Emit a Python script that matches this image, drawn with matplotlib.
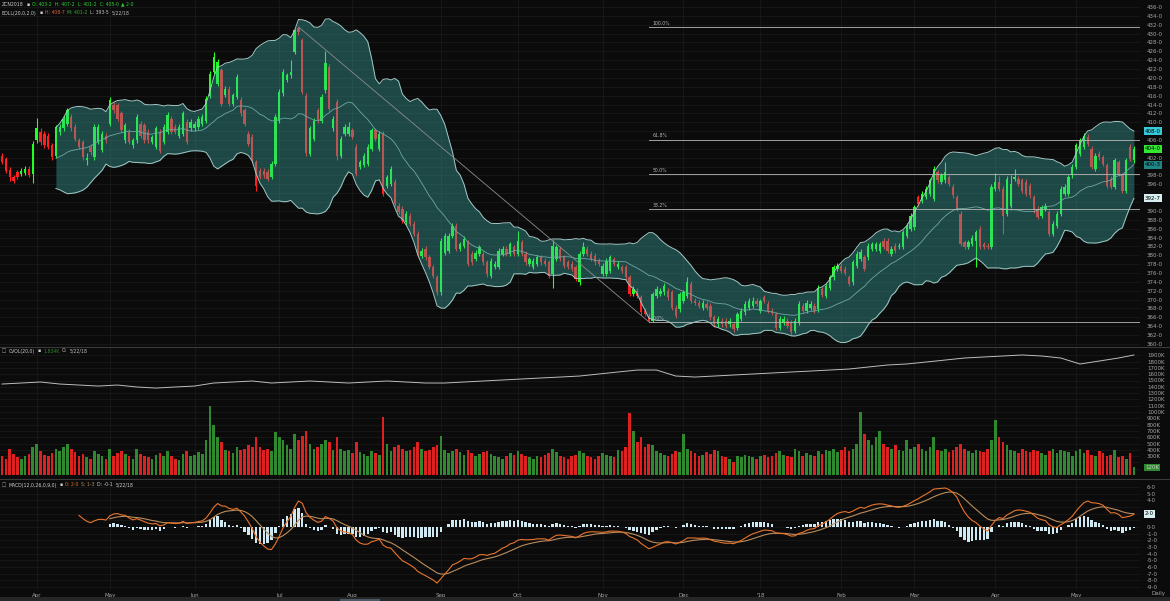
import numpy as np
import pandas as pd
import matplotlib
matplotlib.use("Agg")
import matplotlib.pyplot as plt

# ---------------- data ----------------
# 5 bars before the visible window (warm-up for indicators) + 295 visible daily bars
n_hidden = 5
opens = [
    401.0, 401.8, 402.6, 400.8, 401.9,
    402.5, 401.8, 399.3, 397.6, 398.8, 398.3, 398.6, 399.5, 398.4, 405.9,
    407.8, 407.4, 406.8, 404.8, 402.5, 407.8, 408.6, 409.7, 411.2, 408.9,
    405.9, 405.5, 401.4, 404.4, 402.1, 405.5, 403.7, 407.0, 409.7, 413.8,
    413.8, 412.0, 405.9, 407.8, 404.8, 405.9, 409.7, 409.3, 407.8, 405.5,
    404.4, 407.8, 405.5, 407.8, 410.8, 408.9, 407.0, 407.4, 410.1, 408.6,
    408.6, 408.9, 409.7, 410.4, 416.0, 421.4, 418.7, 421.7, 416.1, 417.6,
    414.2, 415.7, 415.0, 412.7, 407.4, 406.7, 401.0, 399.1, 399.1, 398.8,
    397.6, 400.6, 410.4, 416.5, 419.5, 420.6, 425.9, 431.2, 428.5, 416.0,
    402.9, 406.3, 412.7, 410.4, 417.2, 422.5, 408.6, 414.6, 402.5, 407.4,
    407.4, 408.2, 404.4, 400.0, 400.3, 400.6, 404.0, 408.2, 404.0, 407.4,
    395.7, 396.1, 396.5, 391.2, 390.4, 387.4, 388.9, 387.1, 384.8, 379.9,
    381.4, 379.5, 377.3, 375.0, 371.6, 380.6, 381.0, 384.4, 386.7, 381.4,
    382.1, 382.9, 380.3, 379.1, 380.3, 380.3, 378.4, 375.4, 377.3, 377.3,
    380.3, 381.4, 380.3, 381.8, 380.3, 382.9, 380.3, 378.0, 377.3, 378.0,
    379.5, 378.8, 378.4, 375.8, 379.1, 381.4, 379.5, 378.4, 378.0, 377.3,
    373.9, 380.3, 381.4, 380.3, 379.9, 378.8, 375.8, 375.8, 376.5, 379.1,
    377.3, 377.3, 377.3, 375.0, 371.2, 372.0, 370.5, 367.5, 366.3, 365.2,
    370.8, 371.2, 371.6, 372.0, 371.6, 368.2, 367.8, 369.7, 370.8, 373.5,
    369.7, 369.3, 368.2, 369.0, 368.6, 366.0, 364.4, 365.2, 365.2, 364.4,
    364.4, 363.7, 365.6, 367.1, 368.2, 368.6, 369.7, 367.5, 370.5, 369.0,
    367.5, 366.7, 363.7, 364.8, 365.2, 364.8, 362.9, 364.8, 368.6, 367.5,
    368.2, 368.6, 367.8, 372.3, 370.9, 372.7, 375.0, 376.9, 377.6, 376.9,
    375.0, 373.9, 377.6, 379.1, 379.5, 379.5, 381.4, 381.4, 381.0, 383.3,
    383.3, 380.3, 382.2, 381.8, 381.8, 384.4, 386.0, 386.3, 393.1, 392.3,
    393.1, 393.9, 392.7, 398.7, 396.5, 396.9, 397.6, 395.4, 393.1, 389.3,
    382.9, 381.8, 382.5, 383.3, 385.9, 382.5, 382.2, 381.8, 395.0, 396.5,
    395.0, 389.3, 391.2, 397.2, 397.2, 396.9, 396.5, 395.7, 393.1, 390.5,
    388.9, 390.5, 389.7, 384.8, 386.7, 389.3, 393.9, 393.9, 398.0, 399.9,
    402.9, 404.4, 406.7, 404.0, 399.5, 402.9, 402.1, 400.3, 397.2, 395.4,
    401.0, 398.0, 394.6, 404.4, 401.4,
]
highs = [
    402.5, 403.0, 403.2, 402.4, 403.4,
    403.0, 402.2, 399.8, 398.2, 399.3, 399.6, 400.2, 400.1, 405.7, 411.0,
    408.6, 408.0, 407.5, 405.4, 409.4, 409.6, 411.4, 413.3, 411.8, 409.5,
    406.5, 406.1, 403.1, 405.0, 409.5, 409.5, 408.0, 407.6, 415.6, 414.5,
    414.4, 412.6, 409.9, 408.4, 406.5, 411.8, 410.3, 409.9, 408.4, 407.2,
    409.2, 408.4, 409.5, 412.4, 411.4, 409.5, 409.5, 412.6, 410.7, 410.7,
    410.3, 411.4, 411.8, 415.9, 421.6, 425.9, 424.2, 422.3, 418.2, 418.2,
    416.7, 420.8, 415.6, 413.3, 408.0, 407.3, 401.6, 399.7, 399.7, 399.4,
    401.2, 411.8, 417.5, 422.0, 421.2, 424.0, 431.0, 431.5, 429.1, 416.6,
    409.2, 411.0, 413.3, 416.3, 426.0, 423.1, 411.4, 415.2, 406.9, 409.5,
    410.0, 408.8, 405.0, 401.6, 403.1, 405.0, 408.8, 408.8, 408.0, 408.0,
    398.2, 400.1, 397.1, 391.8, 391.0, 389.9, 389.5, 387.7, 385.4, 381.6,
    382.0, 380.1, 377.9, 375.6, 383.9, 385.0, 385.0, 387.3, 387.3, 383.1,
    384.3, 383.5, 380.9, 381.2, 382.4, 380.9, 379.0, 379.4, 378.6, 381.6,
    382.0, 382.0, 383.1, 382.4, 385.5, 383.5, 380.9, 379.7, 379.4, 380.1,
    380.1, 379.4, 379.0, 383.5, 382.4, 382.0, 380.1, 379.0, 378.6, 377.9,
    380.9, 383.0, 382.0, 380.9, 380.5, 379.4, 378.2, 379.4, 380.1, 379.7,
    378.6, 377.9, 377.9, 375.6, 373.0, 372.6, 371.1, 368.1, 366.9, 371.8,
    373.0, 372.6, 373.7, 372.6, 372.2, 368.8, 371.8, 372.2, 375.0, 374.1,
    370.3, 369.9, 369.9, 369.6, 369.2, 366.6, 366.2, 365.8, 365.8, 365.8,
    365.0, 367.3, 368.1, 369.6, 370.3, 370.5, 370.3, 370.2, 371.1, 369.6,
    368.1, 367.3, 366.2, 366.2, 365.8, 365.4, 365.8, 369.6, 369.2, 369.9,
    369.6, 369.2, 373.3, 372.9, 373.7, 375.6, 377.9, 378.2, 378.2, 377.5,
    375.6, 379.0, 380.9, 381.3, 380.1, 382.8, 383.1, 383.1, 383.1, 383.9,
    383.9, 382.0, 382.8, 382.8, 385.8, 387.3, 389.5, 391.4, 393.7, 394.5,
    395.6, 397.5, 400.1, 399.3, 398.6, 401.0, 398.2, 396.0, 393.7, 389.9,
    383.5, 383.5, 384.6, 385.8, 386.5, 383.1, 382.8, 396.0, 398.6, 397.8,
    395.6, 397.8, 398.0, 399.5, 397.8, 397.5, 397.1, 396.3, 393.7, 391.1,
    391.4, 391.8, 390.3, 387.7, 389.9, 395.6, 396.0, 398.2, 400.5, 405.4,
    406.5, 407.6, 407.3, 404.6, 403.1, 403.5, 402.7, 400.9, 397.8, 402.0,
    401.6, 398.6, 402.0, 405.0, 404.6,
]
lows = [
    400.0, 401.0, 400.2, 400.0, 401.2,
    400.5, 398.6, 396.8, 396.2, 397.1, 397.8, 398.2, 397.7, 396.4, 405.3,
    404.9, 404.3, 403.9, 401.4, 402.0, 407.2, 408.1, 409.2, 408.1, 405.8,
    403.9, 401.5, 400.3, 402.7, 401.6, 405.0, 403.2, 405.3, 409.2, 412.1,
    410.3, 407.7, 405.4, 405.0, 404.2, 405.4, 406.5, 405.4, 405.4, 405.0,
    403.9, 403.1, 405.0, 407.3, 407.3, 407.3, 406.5, 406.9, 405.0, 408.1,
    408.1, 408.4, 409.2, 409.9, 415.5, 420.9, 418.2, 413.7, 415.6, 413.7,
    413.7, 415.2, 411.5, 409.2, 404.7, 400.9, 394.6, 397.1, 397.5, 396.7,
    397.1, 400.1, 409.9, 416.0, 419.0, 420.1, 425.4, 429.8, 416.4, 402.5,
    402.4, 405.8, 409.9, 409.9, 416.7, 412.5, 408.1, 401.5, 402.0, 406.9,
    406.9, 406.2, 397.9, 399.5, 399.8, 400.1, 403.5, 405.8, 403.5, 393.3,
    395.2, 395.6, 391.1, 389.2, 387.3, 386.9, 386.6, 384.3, 379.8, 379.4,
    379.0, 376.8, 374.9, 371.0, 371.1, 380.1, 380.5, 383.9, 380.9, 380.9,
    381.6, 377.5, 377.9, 378.6, 379.8, 377.9, 375.2, 374.9, 376.8, 376.8,
    379.8, 379.8, 379.8, 379.8, 379.8, 379.8, 377.9, 377.5, 376.8, 377.5,
    377.9, 377.5, 374.9, 372.7, 378.6, 378.6, 377.1, 376.8, 376.4, 374.1,
    373.4, 379.8, 379.8, 378.6, 377.9, 377.5, 375.3, 375.3, 376.0, 377.5,
    376.8, 376.0, 374.5, 370.7, 370.7, 370.3, 366.6, 366.2, 365.0, 365.0,
    370.3, 370.7, 371.1, 370.0, 367.7, 365.8, 367.3, 369.2, 370.3, 369.2,
    368.8, 368.1, 367.7, 367.7, 365.5, 363.9, 363.9, 363.9, 363.6, 363.9,
    362.8, 363.2, 365.1, 366.6, 367.7, 368.1, 368.5, 367.0, 369.2, 367.0,
    366.5, 363.2, 363.2, 364.3, 363.6, 362.0, 362.4, 364.3, 367.0, 367.0,
    367.7, 367.0, 367.3, 370.5, 370.4, 372.2, 374.5, 376.4, 376.0, 375.6,
    373.0, 373.4, 377.1, 378.6, 376.4, 379.0, 380.9, 380.9, 380.5, 381.3,
    380.5, 379.8, 380.5, 381.3, 381.3, 383.9, 385.5, 385.8, 391.1, 391.8,
    392.6, 393.4, 392.2, 396.4, 396.0, 396.4, 395.6, 393.0, 390.0, 382.1,
    381.3, 381.3, 382.0, 377.3, 381.3, 381.3, 381.3, 381.3, 394.5, 394.5,
    384.8, 388.8, 390.7, 396.7, 395.6, 394.1, 393.4, 393.0, 389.6, 388.1,
    388.4, 390.0, 384.3, 384.3, 386.2, 388.8, 393.4, 393.4, 397.5, 399.4,
    402.4, 403.9, 404.7, 399.4, 399.0, 401.6, 400.1, 395.2, 394.9, 394.9,
    397.9, 394.1, 394.1, 401.3, 400.9,
]
closes = [
    401.8, 402.6, 400.8, 401.9, 402.8,
    401.0, 399.1, 397.6, 396.7, 397.6, 399.1, 399.5, 398.2, 405.2, 408.6,
    405.5, 404.8, 404.4, 402.1, 408.9, 408.9, 410.8, 412.7, 408.6, 406.3,
    404.4, 402.1, 401.9, 403.3, 408.9, 408.9, 407.4, 405.9, 415.0, 412.7,
    410.8, 408.2, 409.3, 405.5, 405.9, 411.2, 407.0, 405.9, 405.9, 406.7,
    408.6, 403.6, 408.9, 411.6, 407.8, 407.8, 408.9, 412.0, 405.5, 410.1,
    409.7, 410.8, 411.2, 415.3, 421.0, 424.8, 423.6, 414.2, 417.6, 414.2,
    416.1, 420.2, 412.0, 409.7, 405.2, 401.4, 395.7, 397.6, 398.0, 397.2,
    400.6, 411.2, 416.9, 421.4, 420.6, 421.4, 430.8, 430.3, 416.9, 403.0,
    408.6, 410.4, 410.4, 415.7, 423.3, 413.0, 410.8, 402.5, 406.3, 408.9,
    408.9, 406.7, 398.4, 401.0, 402.5, 404.4, 408.2, 406.3, 407.4, 393.8,
    397.6, 399.5, 391.6, 389.7, 387.8, 389.3, 387.1, 384.8, 380.3, 381.0,
    379.5, 377.3, 375.4, 371.6, 383.3, 384.4, 384.4, 386.7, 381.4, 382.5,
    383.7, 378.0, 378.4, 380.6, 381.8, 378.4, 375.7, 378.8, 378.0, 381.0,
    381.4, 380.3, 382.5, 380.3, 383.3, 380.3, 378.4, 379.1, 378.8, 379.5,
    378.4, 378.0, 375.4, 382.1, 381.8, 379.1, 377.6, 377.3, 376.9, 374.6,
    380.3, 381.8, 380.3, 379.1, 378.4, 378.0, 377.6, 378.8, 379.5, 378.0,
    378.0, 376.5, 375.0, 371.2, 372.4, 370.8, 367.1, 366.7, 365.2, 371.2,
    372.4, 372.0, 373.1, 370.5, 368.2, 366.3, 371.2, 371.6, 373.9, 369.7,
    369.3, 368.6, 369.3, 368.2, 366.0, 364.4, 365.6, 364.4, 364.1, 365.2,
    363.3, 366.7, 367.5, 369.0, 369.7, 369.7, 369.0, 369.7, 369.7, 367.5,
    367.0, 363.7, 365.6, 365.6, 364.1, 362.6, 365.2, 369.0, 367.5, 369.3,
    369.0, 367.5, 372.7, 371.0, 373.1, 375.0, 377.3, 377.6, 376.5, 376.1,
    373.5, 378.4, 380.3, 380.7, 376.9, 382.2, 382.5, 382.5, 382.5, 381.8,
    381.0, 381.4, 381.0, 382.2, 385.2, 386.7, 388.9, 390.8, 391.6, 393.9,
    395.0, 396.9, 399.5, 396.9, 398.0, 398.7, 396.1, 393.5, 390.5, 382.6,
    381.8, 382.9, 384.0, 385.2, 381.8, 381.8, 381.8, 395.4, 396.5, 395.0,
    388.9, 397.2, 396.1, 397.6, 396.1, 394.6, 393.9, 393.5, 390.1, 388.6,
    390.8, 391.2, 384.8, 387.1, 389.3, 395.0, 395.4, 397.6, 399.9, 404.8,
    405.9, 407.0, 405.2, 399.9, 402.5, 402.1, 400.6, 395.7, 395.4, 401.4,
    398.4, 394.6, 401.4, 401.8, 404.0,
]
# daily volume, thousands of contracts
volume_k = [
    300, 280, 320, 300, 260,
    300, 260, 420, 340, 280, 250, 300, 330, 450, 500, 380, 320, 300, 350, 420,
    380, 450, 500, 420, 360, 300, 340, 280, 260, 380, 330, 300, 260,
    420, 300, 350, 380, 330, 300, 250, 420, 340, 300, 280, 260, 320, 350, 300,
    380, 300, 260, 240, 330, 380, 300,
    320, 360, 340, 550, 1100, 800, 600, 520, 400, 380, 350, 450, 400, 420, 480,
    450, 600, 450, 400, 420, 380, 680,
    600, 550, 480, 420, 650, 560, 620, 700, 500, 420, 450, 500, 560, 520, 400,
    600, 420, 380, 400,
    350, 520, 360, 340, 300, 380, 350, 320, 920, 500, 380, 450, 480, 420, 380,
    400, 450, 520, 420, 380, 400, 450, 480,
    620, 400, 350, 380, 420, 360, 320, 400, 350, 300, 330, 360, 380, 340, 300,
    280, 260, 300, 350, 320,
    380, 340, 300, 280, 260, 300, 280, 320, 350, 420, 360, 300, 280, 260, 300,
    320, 380, 350, 300, 280, 260, 300,
    350, 320, 300, 280, 400, 380, 450, 980, 700, 520, 600, 450, 500, 480, 380,
    350, 320, 300, 340, 380, 360,
    650, 420, 380, 350, 300, 320, 360, 340, 400, 380, 300, 280, 260, 200, 300,
    280, 320, 300, 280, 250,
    300, 320, 280, 300, 350, 380, 320, 300, 280, 420, 380, 300, 350, 320, 300,
    380, 340, 400, 380, 420, 360,
    400, 450, 380, 420, 500, 1000, 650, 550, 480, 600, 700, 500, 450, 420, 480,
    400, 380, 550, 420,
    450, 500, 420, 380, 450, 600, 400, 380, 420, 360, 400, 450, 500, 420, 380,
    350, 400, 380, 360, 420, 550,
    880, 600, 520, 480, 400, 380, 350, 420, 380, 360, 400, 380, 350, 320, 380,
    420, 350, 400, 380, 360, 300,
    380, 420, 350, 400, 320, 300, 380, 350, 300, 320, 400, 280, 300, 250, 350, 120,
]
# CVOL line (thousands), read every 5th visible bar
cvol_bar = [0, 5, 10, 15, 20, 25, 30, 35, 40, 45, 50, 55, 60, 65, 70, 75, 80, 85,
            90, 95, 100, 105, 110, 115, 120, 125, 130, 135, 140, 145, 150, 155,
            160, 165, 170, 175, 180, 185, 190, 195, 200, 205, 210, 215, 220, 225,
            230, 235, 240, 245, 250, 255, 260, 265, 270, 275, 280, 285, 290, 294]
cvol_k = [1444, 1460, 1476, 1444, 1428, 1412, 1428, 1397, 1380, 1397, 1412, 1460,
          1476, 1492, 1460, 1476, 1492, 1476, 1460, 1476, 1492, 1476, 1460, 1460,
          1476, 1492, 1508, 1524, 1540, 1555, 1571, 1603, 1635, 1666, 1666, 1571,
          1555, 1571, 1587, 1603, 1619, 1635, 1650, 1666, 1682, 1714, 1746, 1762,
          1793, 1825, 1857, 1873, 1889, 1905, 1889, 1857, 1762, 1809, 1857, 1905]

month_bar = [9, 28, 50, 72, 91, 114, 134, 156, 177, 197, 218, 237, 258, 279]
month_lbl = ["Apr", "May", "Jun", "Jul", "Aug", "Sep", "Oct", "Nov", "Dec",
             "'18", "Feb", "Mar", "Apr", "May"]

fib_high, fib_low = 431.5, 365.0
fib_high_bar, fib_low_bar = 77, 168
fib_ratio = [1.0, 0.618, 0.5, 0.382, 0.0]
fib_lbl = ["100.0%", "61.8%", "50.0%", "38.2%", "0.0%"]

# ---------------- styling ----------------
BG = "#0b0b0b"
GRID = "#191919"
TXT = "#a6a6a6"
GREEN = "#22ff22"
RED = "#ff2020"
VGREEN = "#2f8a2f"
VRED = "#dd2020"

W, H = 1170, 601
fig = plt.figure(figsize=(W / 100, H / 100), dpi=100, facecolor=BG)
renderer = fig.canvas.get_renderer()


def px_axes(x0, y0, x1, y1):
    a = fig.add_axes([x0 / W, 1 - y1 / H, (x1 - x0) / W, (y1 - y0) / H])
    a.set_facecolor(BG)
    for sp in a.spines.values():
        sp.set_visible(False)
    return a


def right_ticks(ax, ticks, fmt, boxes, clear):
    # tick labels hidden underneath the value boxes are left out (as in the source)
    keep = [t for t in ticks if all(abs(t - b) >= clear for b in boxes)]
    ax.yaxis.tick_right()
    ax.set_yticks(keep)
    ax.set_yticklabels([fmt(t) for t in keep])
    ax.tick_params(axis="y", length=0, pad=5, labelsize=4.0, labelcolor=TXT)


def vbox(ax, y, text, fc, tc="#000000"):
    ax.annotate(text, xy=(1, y), xycoords=("axes fraction", "data"), xytext=(3.6, 0),
                textcoords="offset points", va="center", ha="left", fontsize=4.0,
                color=tc, annotation_clip=False, zorder=10,
                bbox=dict(boxstyle="square,pad=0.25", fc=fc, ec="none"))


def q8(p):
    return f"{int(p)}-{int(round((p - int(p)) * 8)) % 8}"


o = np.array(opens); h = np.array(highs); l = np.array(lows); c = np.array(closes)
v = np.array(volume_k, dtype=float)
idx = np.arange(len(c)) - n_hidden
up = c >= o
XL = (-2 / 3.85, (1140 - 2) / 3.85)

# ---------------- price panel ----------------
axp = px_axes(0, 0, 1140, 346)
axp.set_xlim(*XL)
axp.set_ylim(436 - 338 / 4.42, 436 + 7 / 4.42)
for yv in np.arange(360, 437, 2):
    axp.axhline(yv, color=GRID, lw=0.6, zorder=0)
for mb in month_bar:
    axp.axvline(mb, color=GRID, lw=0.6, zorder=0)

cols = np.where(up, GREEN, RED)
axp.vlines(idx, l, h, colors=cols, lw=0.8, zorder=2)
body = np.maximum(np.abs(c - o), 0.25)
axp.bar(idx, body, bottom=np.minimum(o, c), width=0.62, color=cols, lw=0, zorder=2)

s = pd.Series(c)
mid = s.rolling(20).mean()
sd = s.rolling(20).std(ddof=0)
upper = mid + 2 * sd
lower = mid - 2 * sd
m = mid.notna().values
axp.fill_between(idx[m], upper[m], lower[m], color="#3db5b0", alpha=0.36, lw=0, zorder=3)
axp.plot(idx[m], upper[m], color="#a3c9c6", lw=0.7, zorder=4)
axp.plot(idx[m], lower[m], color="#a3c9c6", lw=0.7, zorder=4)
axp.plot(idx[m], mid[m], color="#6ea8a4", lw=0.6, zorder=4)

# fibonacci retracement
axp.plot([fib_high_bar, fib_low_bar], [fib_high, fib_low], color="#8c8c8c", lw=0.6, zorder=5)
for r, lb in zip(fib_ratio, fib_lbl):
    lvl = fib_low + r * (fib_high - fib_low)
    axp.plot([fib_low_bar, XL[1]], [lvl, lvl], color="#b8b8b8", lw=0.6, zorder=5)
    axp.text(fib_low_bar + 1, lvl + 0.25, lb, color="#b8b8b8", fontsize=3.3,
             va="bottom", ha="left", zorder=6)

p_boxes = [upper.iloc[-1], c[-1], mid.iloc[-1], lower.iloc[-1]]
right_ticks(axp, np.arange(360, 437, 2), lambda t: f"{t}-0", p_boxes, 1.5)
axp.set_xticks([])
vbox(axp, upper.iloc[-1], q8(upper.iloc[-1]), "#39c8d8")
vbox(axp, c[-1], q8(c[-1]), "#33e633")
vbox(axp, mid.iloc[-1], q8(mid.iloc[-1]), "#1f8585")
vbox(axp, lower.iloc[-1], q8(lower.iloc[-1]), "#d8eef0")

# ---------------- volume panel ----------------
axv = px_axes(0, 347, 1140, 478)
axv.set_xlim(*XL)
axv.set_ylim(-(478 - 475) / 6.3 * 100, (475 - 347) / 6.3 * 100)
for yv in range(100, 2000, 100):
    axv.axhline(yv, color=GRID, lw=0.6, zorder=0)
for mb in month_bar:
    axv.axvline(mb, color=GRID, lw=0.6, zorder=0)
axv.bar(idx, v, width=0.7, color=np.where(up, VGREEN, VRED), lw=0, zorder=2)
axv.plot(cvol_bar, cvol_k, color="#bdbdbd", lw=0.7, zorder=3)
right_ticks(axv, np.arange(100, 2000, 100), lambda t: f"{t}K", [v[-1]], 105)
axv.set_xticks([])
vbox(axv, v[-1], f"{int(v[-1])}K", "#2f8a2f", "#d0d0d0")

# ---------------- MACD panel ----------------
axm = px_axes(0, 479, 1140, 590)
axm.set_xlim(*XL)
axm.set_ylim(-(590 - 527) / 6.67, (527 - 479) / 6.67)
for yv in range(-9, 7):
    axm.axhline(yv, color=GRID, lw=0.6, zorder=0)
for mb in month_bar:
    axm.axvline(mb, color=GRID, lw=0.6, zorder=0)
e12 = s.ewm(span=12, adjust=False).mean()
e26 = s.ewm(span=26, adjust=False).mean()
macd = (e12 - e26).values.copy()
sig = pd.Series(e12 - e26).ewm(span=9, adjust=False).mean().values.copy()
hist = macd - sig
macd[:25] = np.nan
sig[:33] = np.nan
hist[:33] = np.nan
axm.bar(idx, hist, width=0.62, color="#cfe8f2", lw=0, zorder=2)
axm.plot(idx, sig, color="#b98c5c", lw=0.8, zorder=3)
axm.plot(idx, macd, color="#e8742c", lw=0.8, zorder=3)
right_ticks(axm, np.arange(-9, 7), lambda t: f"{t}-0", [macd[-1], sig[-1]], 1.0)
axm.set_xticks(month_bar)
axm.set_xticklabels(month_lbl)
axm.tick_params(axis="x", length=0, pad=2.5, labelsize=4.0, labelcolor=TXT)
vbox(axm, macd[-1], f"{macd[-1]:.0f}-0", "#1f8585", "#d0d0d0")
vbox(axm, sig[-1], f"{sig[-1]:.0f}-0", "#d8eef0")

# ---------------- separators & headers ----------------
for yy in (346.5, 478.5):
    fig.add_artist(plt.Line2D([0, 1], [1 - yy / H, 1 - yy / H], color="#3a3a3a", lw=0.8))
fig.add_artist(plt.Rectangle((0, 0), 1, 4 / H, color="#262626", lw=0))
fig.add_artist(plt.Rectangle((340 / W, 0), 40 / W, 2 / H, color="#4a5a6a", lw=0))


def seq(x, y, parts, fs=3.3, gap=2.5):
    for t, col in parts:
        tx = fig.text(x / W, 1 - y / H, t, color=col, fontsize=fs, va="center", ha="left")
        x += tx.get_window_extent(renderer).width + gap


seq(2, 4, [("ZCN2018", "#d0d0d0"), ("\u25aa", "#d0d0d0"),
           ("O: 403-2  H: 407-2  L: 401-2  C: 405-0", "#2fd02f"), ("\u25b2 2-0", "#2fd02f")])
seq(2, 13, [("BOLL(20,0,2.0)", "#d0d0d0"), ("\u25aa", "#d0d0d0"),
            ("H: 408-7", "#e0603a"), ("M: 401-2", "#30b030"), ("L: 393-5", "#c0c0c0"),
            ("5/22/18", "#c0c0c0")])
seq(2, 351, [("\u25a1", "#a0a0a0"), ("CVOL(20,0)", "#d0d0d0"), ("\u25aa", "#d0d0d0"),
             ("1,834K", "#2f8a2f"), ("O:", "#c0c0c0"), ("5/22/18", "#c0c0c0")])
seq(2, 485, [("\u25a1", "#a0a0a0"), ("MACD(12,0,26,0,9,0)", "#d0d0d0"), ("\u25aa", "#d0d0d0"),
             ("0: 2-0", "#e8742c"), ("S: 1-3", "#b98c5c"), ("D: -0-1", "#d0d0d0"),
             ("5/22/18", "#d0d0d0")])

fig.text(1152 / W, 1 - 594 / H, "Daily", color=TXT, fontsize=4.0, va="center", ha="left")

fig.savefig("out.png", dpi=100, facecolor=BG)
